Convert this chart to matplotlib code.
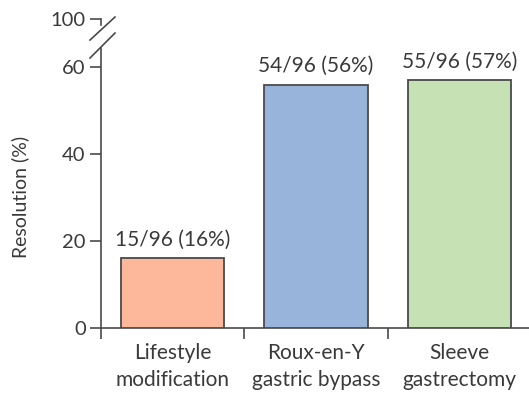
import matplotlib
matplotlib.use("Agg")
import matplotlib.pyplot as plt
import numpy as np

# ── Données ───────────────────────────────────────────────
categories = ["Lifestyle\nmodification", "Roux-en-Y\ngastric bypass", "Sleeve\ngastrectomy"]
resolved   = [15, 54, 55]
totals     = [96, 96, 96]
percents   = [16, 56, 57]
colors     = ["#FDB79B", "#98B4DA", "#C6E1B4"]
yticks     = [0, 20, 40, 60]

TXT = "#3a3a3a"
FS = 15
plt.rcParams["font.family"] = ["Lato", "DejaVu Sans"]
plt.rcParams["font.size"] = FS

W, H = 529, 394
fig = plt.figure(figsize=(W / 100, H / 100), dpi=100)
# axes: x from 101 px to 531 px, y from 328 px (0) to 2 px (75)
ax = fig.add_axes([101 / W, 1 - 328 / H, 430 / W, 326 / H])

x = np.arange(len(categories))
ax.bar(x, percents, width=0.72, color=colors, edgecolor="#4a4a4a", linewidth=1.3, zorder=3)
for xi, r, t, p in zip(x, resolved, totals, percents):
    ax.text(xi, p + 2.0, f"{r}/{t} ({p}%)", ha="center", va="bottom", color=TXT, fontsize=FS)

ax.set_xlim(-0.5, 2.5)
ax.set_ylim(0, 75)

# axe y cassé : 0-60 puis 100
y100 = (328 - 19) / 4.347
ax.set_yticks(yticks + [y100])
ax.set_yticklabels([str(v) for v in yticks] + ["100"])
ax.tick_params(axis="y", length=8, width=1.2, color="#4a4a4a", labelcolor=TXT, pad=3,
               labelsize=14.5)
ax.set_xticks(x)
ax.set_xticklabels(categories, linespacing=1.4)
ax.tick_params(axis="x", length=0, labelcolor=TXT, pad=11)
ax.set_xticks([-0.5, 0.5, 1.5, 2.5], minor=True)
ax.tick_params(axis="x", which="minor", length=8, width=1.2, color="#4a4a4a")

for s in ["top", "right", "left"]:
    ax.spines[s].set_visible(False)
ax.spines["bottom"].set_color("#4a4a4a")
ax.spines["bottom"].set_linewidth(1.2)

def px(xp, yp):
    return (-0.5 + (xp - 101) / 143.3, (328 - yp) / 4.347)

lc = dict(color="#4a4a4a", lw=1.2, clip_on=False, zorder=4)
# ligne verticale basse
x0, y0 = px(101, 328)
x1, y1 = px(101, 48)
ax.plot([x0, x1], [y0, y1], **lc)
# segment haut
x2, y2 = px(101, 19)
x3, y3 = px(101, 25)
ax.plot([x2, x3], [y2, y3], **lc)
# barres obliques
for (a, b), (c, d) in [((90, 40), (115, 17)), ((90, 58), (115, 33))]:
    p0 = px(a, b)
    p1 = px(c, d)
    ax.plot([p0[0], p1[0]], [p0[1], p1[1]], **lc)

fig.text(20 / W, 1 - 197 / H, "Resolution (%)", rotation=90, ha="center", va="center",
         color=TXT, fontsize=14)

fig.savefig("out.png", dpi=100, facecolor="white")
